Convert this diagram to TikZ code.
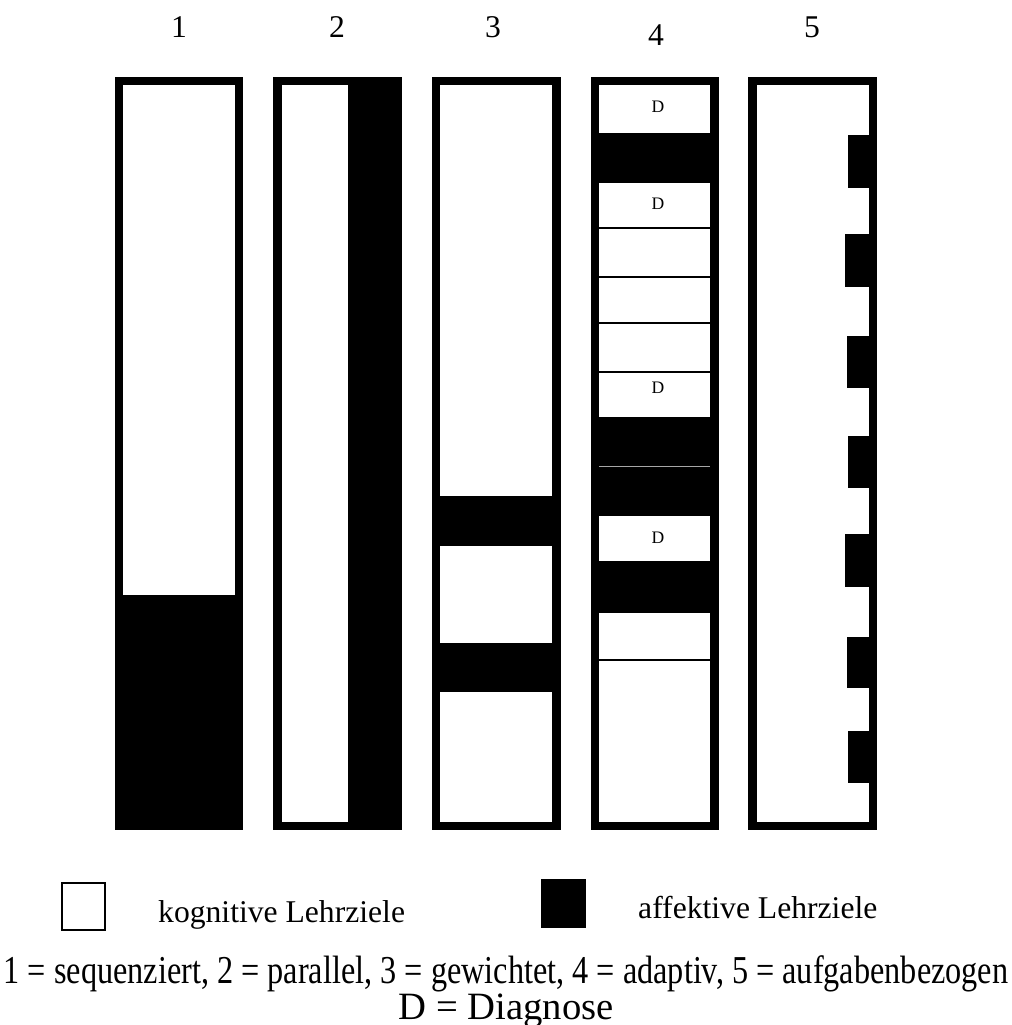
\documentclass[tikz,border=0pt]{standalone}
\usepackage{fontspec}
\setmainfont{Liberation Serif}
\usetikzlibrary{positioning}

\begin{document}
\begin{tikzpicture}[x=0.2mm, y=-0.2mm,
    affektiv/.style={fill=black, draw=none},
    kognitiv/.style={fill=white, draw=none},
    trenner/.style={draw=black, line width=0.8pt},
    nummer/.style={font=\fontsize{18}{20}\selectfont},
    diag/.style={font=\fontsize{10}{12}\selectfont},
    legende/.style={font=\fontsize{18}{20}\selectfont, anchor=base west},
    erklaerung/.style={font=\fontsize{22.5}{24}\selectfont, anchor=base, inner sep=0pt}]
  \useasboundingbox (0,0) rectangle (1011,1025);

  %% column numbers
  \node[nummer] (n1) at (179,27) {1};
  \node[nummer] (n2) at (337,27) {2};
  \node[nummer] (n3) at (493,27) {3};
  \node[nummer] (n4) at (656,35) {4};
  \node[nummer] (n5) at (812,27) {5};

  %% 1: sequenziert
  \fill[affektiv] (115,77) rectangle (243,830);
  \fill[kognitiv] (123,85) rectangle (235,595);

  %% 2: parallel
  \fill[affektiv] (273,77) rectangle (402,830);
  \fill[kognitiv] (282,85) rectangle (348,822);

  %% 3: gewichtet
  \fill[affektiv] (432,77) rectangle (561,830);
  \fill[kognitiv] (440,85) rectangle (552,496);
  \fill[kognitiv] (440,546) rectangle (552,643);
  \fill[kognitiv] (440,692) rectangle (552,822);

  %% 4: adaptiv
  \fill[affektiv] (591,77) rectangle (719,830);
  \fill[kognitiv] (599,85) rectangle (710,133);
  \fill[kognitiv] (599,183) rectangle (710,417);
  \fill[kognitiv] (599,516) rectangle (710,561);
  \fill[kognitiv] (599,613) rectangle (710,822);
  \draw[trenner] (599,228) -- (710,228);
  \draw[trenner] (599,277) -- (710,277);
  \draw[trenner] (599,323) -- (710,323);
  \draw[trenner] (599,372) -- (710,372);
  \draw[trenner] (599,612) -- (710,612);
  \draw[trenner] (599,660) -- (710,660);
  \draw[gray!70, line width=0.4pt] (599,466) -- (710,466);
  \node[diag] (d1) at (658,107) {D};
  \node[diag] (d2) at (658,204) {D};
  \node[diag] (d3) at (658,388) {D};
  \node[diag] (d4) at (658,538) {D};

  %% 5: aufgabenbezogen
  \fill[affektiv] (748,77) rectangle (877,830);
  \fill[kognitiv] (757,85) rectangle (869,822);
  \fill[affektiv] (848,135) rectangle (869,188);
  \fill[affektiv] (845,234) rectangle (869,287);
  \fill[affektiv] (847,336) rectangle (869,388);
  \fill[affektiv] (848,436) rectangle (869,488);
  \fill[affektiv] (845,534) rectangle (869,587);
  \fill[affektiv] (847,637) rectangle (869,688);
  \fill[affektiv] (848,731) rectangle (869,783);

  %% legend
  \draw[line width=1pt, fill=white] (62,883) rectangle (105,930);
  \node[legende] (kog) at (152,922) {kognitive Lehrziele};
  \fill[affektiv] (541,879) rectangle (586,928);
  \node[legende] (aff) at (632,918) {affektive Lehrziele};

  %% explanation
  \node[erklaerung] (erkl) at (506,983)
    {\scalebox{0.816}[1]{1 = sequenziert, 2 = parallel, 3 = gewichtet, 4 = adaptiv, 5 = aufgabenbezogen}};
  \node[erklaerung, font=\fontsize{22}{24}\selectfont] (diagn) at (506,1019) {D = Diagnose};
\end{tikzpicture}
\end{document}
